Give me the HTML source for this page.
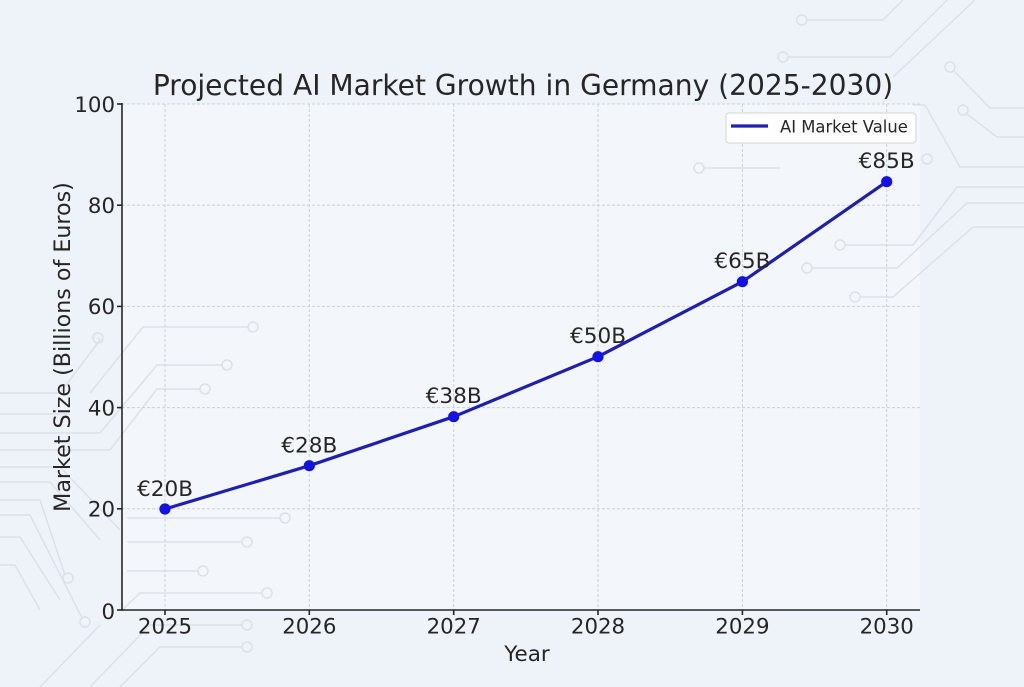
<!DOCTYPE html>
<html><head><meta charset="utf-8">
<style>
html,body{margin:0;padding:0;background:#eef3fa;}
svg{display:block;}
text{font-family:"DejaVu Sans","Liberation Sans",sans-serif;fill:#262626;}
</style></head>
<body>
<svg width="1024" height="687" viewBox="0 0 1024 687" xmlns="http://www.w3.org/2000/svg">
<rect x="0" y="0" width="1024" height="687" fill="#eef3fa"/>
<rect x="122" y="104" width="798" height="506" fill="#f3f6fb"/>
<!-- faint circuit background -->
<g stroke="#d9dee6" stroke-width="1.5" fill="none" opacity="0.85">
  <path d="M806,20 H883 L903,0"/><circle cx="801.7" cy="20" r="5"/>
  <path d="M788,57 H890 L947,0"/><circle cx="783" cy="57" r="5"/>
  <path d="M893,77 L975,0"/>
  <path d="M954,71 L990,108 H1024"/><circle cx="950" cy="67" r="5"/>
  <path d="M967,114 L997,137 H1024"/><circle cx="963" cy="110" r="5"/>
  <path d="M913,105 L925,105 L960,167 H1024"/>
  <circle cx="927" cy="159" r="5"/>
  <path d="M845,245 H913 L957,187 H1024"/><circle cx="840" cy="245" r="5"/>
  <path d="M812,268 H897 L967,203 H1024"/><circle cx="807" cy="268" r="5"/>
  <path d="M860,297 H893 L973,227 H1024"/><circle cx="855" cy="297" r="5"/>
  <path d="M704,168 H780"/><circle cx="699" cy="168" r="5"/>
  <path d="M0,393 H60 L100,340 L98,338"/><circle cx="98" cy="338" r="5"/>
  <path d="M248,327 H143 L90,393"/><circle cx="253" cy="327" r="5"/>
  <path d="M222,365 H157 L100,433 H0"/><circle cx="227" cy="365" r="5"/>
  <path d="M200,389 H157 L110,450 H0"/><circle cx="205" cy="389" r="5"/>
  <path d="M0,414 H70"/>
  <path d="M0,467 H60 L120,530"/>
  <path d="M0,482 H50 L100,540"/>
  <path d="M0,500 H40 L65,575"/><circle cx="68" cy="578" r="5"/>
  <path d="M0,515 H30 L82,618"/><circle cx="85" cy="622" r="5"/>
  <path d="M0,537 H20 L60,600"/>
  <path d="M0,565 H15 L40,610"/>
  <path d="M127,518 H280"/><circle cx="285" cy="518" r="5"/>
  <path d="M127,542 H242"/><circle cx="247" cy="542" r="5"/>
  <path d="M127,571 H198"/><circle cx="203" cy="571" r="5"/>
  <path d="M262,593 H140 L122,610"/><circle cx="267" cy="593" r="5"/>
  <path d="M242,625 H150 L90,687"/><circle cx="247" cy="625" r="5"/>
  <path d="M242,647 H160 L120,687"/><circle cx="247" cy="647" r="5"/>
  <path d="M40,687 L100,625"/>
</g>
<!-- grid -->
<g stroke="#cbd0d8" stroke-width="1" stroke-dasharray="3,2" fill="none">
  <line x1="122" y1="104" x2="920" y2="104"/>
  <line x1="122" y1="205.2" x2="920" y2="205.2"/>
  <line x1="122" y1="306.4" x2="920" y2="306.4"/>
  <line x1="122" y1="407.6" x2="920" y2="407.6"/>
  <line x1="122" y1="508.8" x2="920" y2="508.8"/>
  <line x1="165" y1="104" x2="165" y2="610"/>
  <line x1="309.3" y1="104" x2="309.3" y2="610"/>
  <line x1="453.7" y1="104" x2="453.7" y2="610"/>
  <line x1="598" y1="104" x2="598" y2="610"/>
  <line x1="742.4" y1="104" x2="742.4" y2="610"/>
  <line x1="886.7" y1="104" x2="886.7" y2="610"/>
</g>
<!-- axes -->
<g stroke="#262626" stroke-width="1.6" fill="none">
  <line x1="122" y1="103" x2="122" y2="610.8"/>
  <line x1="121.2" y1="610" x2="920" y2="610"/>
  <line x1="117" y1="104" x2="122" y2="104"/>
  <line x1="117" y1="205.2" x2="122" y2="205.2"/>
  <line x1="117" y1="306.4" x2="122" y2="306.4"/>
  <line x1="117" y1="407.6" x2="122" y2="407.6"/>
  <line x1="117" y1="508.8" x2="122" y2="508.8"/>
  <line x1="117" y1="610" x2="122" y2="610"/>
  <line x1="165" y1="610" x2="165" y2="615"/>
  <line x1="309.3" y1="610" x2="309.3" y2="615"/>
  <line x1="453.7" y1="610" x2="453.7" y2="615"/>
  <line x1="598" y1="610" x2="598" y2="615"/>
  <line x1="742.4" y1="610" x2="742.4" y2="615"/>
  <line x1="886.7" y1="610" x2="886.7" y2="615"/>
</g>
<!-- y tick labels -->
<g font-size="21.3" text-anchor="end">
  <text x="115" y="112">100</text>
  <text x="115" y="213">80</text>
  <text x="115" y="314">60</text>
  <text x="115" y="415.5">40</text>
  <text x="115" y="516.5">20</text>
  <text x="115" y="619">0</text>
</g>
<!-- x tick labels -->
<g font-size="21.3" text-anchor="middle">
  <text x="165" y="633.5">2025</text>
  <text x="309.3" y="633.5">2026</text>
  <text x="453.7" y="633.5">2027</text>
  <text x="598" y="633.5">2028</text>
  <text x="742.4" y="633.5">2029</text>
  <text x="886.7" y="633.5">2030</text>
</g>
<text x="527" y="661" font-size="21.5" text-anchor="middle">Year</text>
<text transform="translate(70,347) rotate(-90)" font-size="22.2" text-anchor="middle">Market Size (Billions of Euros)</text>
<text x="523" y="95" font-size="28.1" text-anchor="middle">Projected AI Market Growth in Germany (2025-2030)</text>
<!-- series -->
<polyline points="165,509 309.3,465.7 453.7,416.7 598,356.7 742.4,281.7 886.7,181.7" fill="none" stroke="#1f1fb0" stroke-width="3.2" stroke-linejoin="round"/>
<g fill="#1212e6">
  <circle cx="165" cy="509" r="5.6"/>
  <circle cx="309.3" cy="465.7" r="5.6"/>
  <circle cx="453.7" cy="416.7" r="5.6"/>
  <circle cx="598" cy="356.7" r="5.6"/>
  <circle cx="742.4" cy="281.7" r="5.6"/>
  <circle cx="886.7" cy="181.7" r="5.6"/>
</g>
<!-- annotations -->
<g font-size="21.6" text-anchor="middle">
  <text x="165" y="496">€20B</text>
  <text x="309.3" y="452.5">€28B</text>
  <text x="453.7" y="403">€38B</text>
  <text x="598" y="343">€50B</text>
  <text x="742.4" y="268">€65B</text>
  <text x="886.7" y="168">€85B</text>
</g>
<!-- legend -->
<rect x="726" y="113" width="190" height="30" rx="3" fill="#ffffff" fill-opacity="0.85" stroke="#d4d4d4" stroke-width="1"/>
<line x1="731" y1="126" x2="768" y2="126" stroke="#1f1fb0" stroke-width="3.2"/>
<text x="780" y="132.5" font-size="16.4">AI Market Value</text>
</svg>
</body></html>
